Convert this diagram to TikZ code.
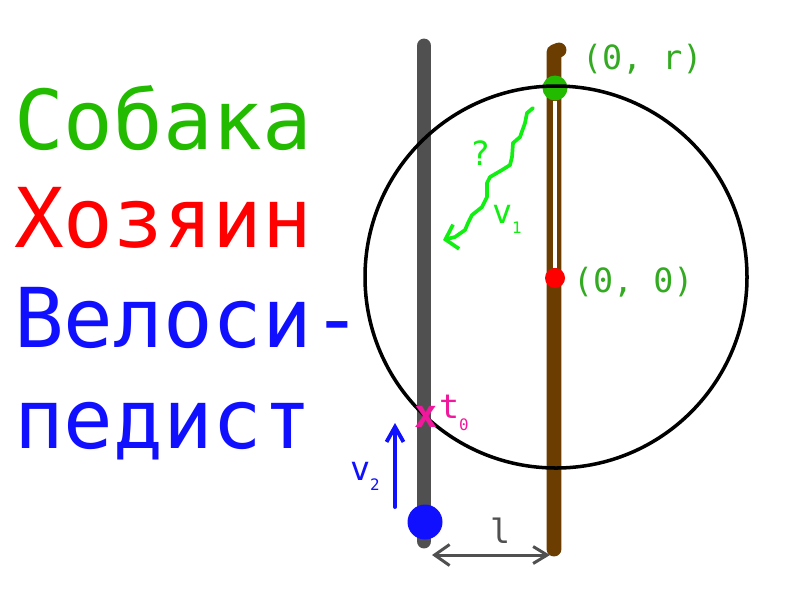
\documentclass[tikz,border=0pt]{standalone}
\usepackage{fontspec}
\setmainfont{DejaVu Sans Mono}
\usetikzlibrary{arrows.meta,positioning}
\definecolor{dogcol}{HTML}{22BB00}
\definecolor{labcol}{HTML}{33AA22}
\definecolor{trackcol}{HTML}{11EE11}
\definecolor{ownercol}{HTML}{FF0000}
\definecolor{bikecol}{HTML}{1010FF}
\definecolor{roadcol}{HTML}{505050}
\definecolor{walkcol}{HTML}{6B3D00}
\definecolor{markcol}{HTML}{F0189C}
\newcommand{\namefont}{\fontsize{47}{56}\selectfont}
\newcommand{\labfont}{\fontsize{19}{23}\selectfont}
\newcommand{\subfont}{\fontsize{9}{11}\selectfont}
\newcommand{\lowsub}[1]{\raisebox{-0.2cm}{\subfont #1}}

\begin{document}
\begin{tikzpicture}[x=0.02cm, y=-0.02cm, line cap=round, line join=round,
   txt/.style={anchor=base west, inner sep=0pt, outer sep=0pt},
   dot/.style={circle, fill, inner sep=0pt, minimum size=#1},
   road/.style={roadcol, line width=8.5pt},
   walk/.style={walkcol, line width=8.5pt},
   leash/.style={white, line width=2.4pt, line cap=butt},
   ring/.style={black, line width=2pt},
   track/.style={trackcol, line width=2.1pt, -{Straight Barb[length=0.22cm,width=0.5cm]}},
   speed/.style={bikecol, line width=2.2pt, -{Straight Barb[length=0.3cm,width=0.34cm]}},
   dist/.style={roadcol, line width=1.7pt, {Straight Barb[length=0.3cm,width=0.42cm]}-{Straight Barb[length=0.28cm,width=0.34cm]}}]
  \useasboundingbox (0,0) rectangle (800,600);
  % legend
  \node[txt, dogcol] (dogname) at (14,149) {\namefont Собака};
  \node[txt, ownercol] (ownername) at (14,247) {\namefont Хозяин};
  \node[txt, bikecol] (bikename1) at (14,347) {\namefont Велоси-};
  \node[txt, bikecol] (bikename2) at (14,448) {\namefont педист};
  % roads
  \coordinate (roadtop) at (424,46);
  \coordinate (roadbot) at (424,541);
  \coordinate (walktop) at (554,52);
  \coordinate (walkbot) at (554,549);
  \draw[road] (roadtop) -- (roadbot);
  \draw[walk] (walkbot) -- (walktop) -- (559,50);
  % dog, owner and cyclist
  \node[dot=5mm, dogcol] (dog) at (555,88) {};
  \node[dot=4mm, ownercol] (owner) at (555,278) {};
  \node[dot=7mm, bikecol] (bike) at (425,522) {};
  \draw[leash] (dog.south) -- (owner.north);
  \draw[ring] (556,277) circle[radius=191];
  \node[txt, labcol] (toplab) at (582,69) {\labfont (0, r)};
  \node[txt, labcol] (originlab) at (573,292) {\labfont (0, 0)};
  % the dog's run
  \coordinate (runstart) at (533,108);
  \coordinate (runend) at (443,240);
  \draw[track] (runstart) -- (527,113) -- (525,123) -- (520,137) -- (513,143)
     -- (512,157) -- (510,165) -- (502,170) -- (490,177) -- (487,183)
     -- (487,197) -- (482,207) -- (472,215) -- (468,223) -- (465,230)
     -- (455,237) -- (runend);
  \node[txt, trackcol] (ask) at (470,165) {\labfont ?};
  \node[txt, trackcol] (vdog) at (492,223) {\labfont v\lowsub{1}};
  % meeting point
  \node[txt, markcol] (meet) at (414,427) {\fontsize{22}{26}\selectfont\bfseries x};
  \node[txt, markcol] (tzero) at (439,418) {\labfont t\raisebox{-0.24cm}{\subfont 0}};
  % cyclist speed
  \coordinate (vfoot) at (395,507);
  \coordinate (vhead) at (395,423);
  \draw[speed] (vfoot) -- (vhead);
  \node[txt, bikecol] (vbike) at (350,480) {\labfont v\lowsub{2}};
  % distance between roads
  \coordinate (distL) at (432,555);
  \coordinate (distR) at (550,555);
  \draw[dist] (distL) -- (distR);
  \node[txt, roadcol] (gap) at (490,543) {\labfont l};
\end{tikzpicture}
\end{document}
